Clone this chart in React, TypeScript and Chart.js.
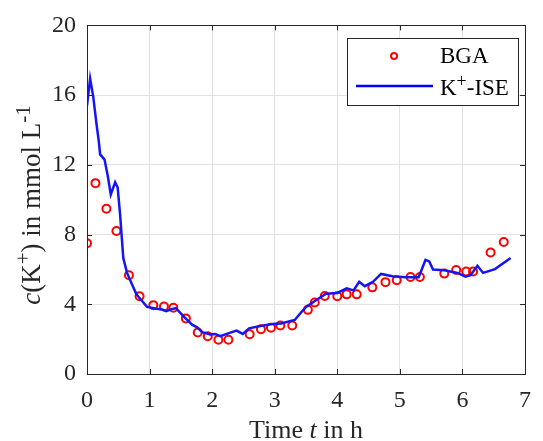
import React, { useEffect, useRef } from "react";
import { Chart, registerables } from "chart.js";

Chart.register(...registerables);

// BGA measurements
const bgaTime = [0, 0.135, 0.31, 0.47, 0.67, 0.84, 1.06, 1.23, 1.38, 1.58, 1.77, 1.93, 2.1, 2.26, 2.6, 2.78, 2.94, 3.09, 3.28, 3.53, 3.64, 3.8, 4.0, 4.15, 4.31, 4.56, 4.77, 4.95, 5.17, 5.32, 5.71, 5.9, 6.06, 6.17, 6.45, 6.66];
const bgaConc = [7.5, 10.95, 9.48, 8.2, 5.67, 4.46, 3.95, 3.87, 3.8, 3.19, 2.38, 2.17, 1.97, 1.97, 2.28, 2.57, 2.66, 2.78, 2.78, 3.68, 4.1, 4.48, 4.46, 4.57, 4.57, 4.97, 5.27, 5.38, 5.57, 5.57, 5.76, 5.97, 5.88, 5.88, 6.97, 7.57];

// K+-ISE signal
const iseTime = [0, 0.05, 0.1, 0.15, 0.19, 0.21, 0.28, 0.33, 0.38, 0.45, 0.49, 0.53, 0.58, 0.64, 0.72, 0.79, 0.88, 0.96, 1.09, 1.2, 1.27, 1.35, 1.42, 1.56, 1.68, 1.76, 1.84, 1.97, 2.05, 2.13, 2.28, 2.39, 2.49, 2.59, 2.75, 2.96, 3.1, 3.32, 3.4, 3.5, 3.66, 3.82, 4.0, 4.15, 4.26, 4.35, 4.44, 4.57, 4.7, 4.88, 5.09, 5.3, 5.35, 5.41, 5.47, 5.53, 5.71, 5.92, 6.05, 6.13, 6.24, 6.33, 6.52, 6.77];
const iseConc = [15.4, 16.95, 15.9, 14.4, 13.3, 12.6, 12.3, 11.4, 10.3, 11.0, 10.7, 9.1, 6.65, 5.8, 5.14, 4.57, 4.19, 3.85, 3.76, 3.7, 3.6, 3.72, 3.78, 3.25, 2.83, 2.68, 2.4, 2.27, 2.3, 2.17, 2.36, 2.49, 2.3, 2.62, 2.74, 2.87, 2.9, 3.1, 3.44, 3.85, 4.23, 4.61, 4.65, 4.91, 4.8, 5.29, 5.04, 5.29, 5.74, 5.61, 5.55, 5.55, 5.99, 6.55, 6.46, 5.99, 5.95, 5.8, 5.59, 5.67, 6.21, 5.8, 6.02, 6.65];

const xTicks = [0, 1, 2, 3, 4, 5, 6, 7];
const yTicks = [0, 4, 8, 12, 16, 20];

const SERIF = "'Liberation Serif', 'Times New Roman', serif";
const AXIS = "#262626";

type Seg = { t: string; it?: boolean; sup?: boolean };

function segFont(s: Seg, size: number) {
  const sz = s.sup ? size * 0.78 : size;
  return `${s.it ? "italic " : ""}${sz}px ${SERIF}`;
}

function drawRich(ctx: CanvasRenderingContext2D, segs: Seg[], x: number, y: number, size: number, align: "left" | "center") {
  let total = 0;
  for (const s of segs) {
    ctx.font = segFont(s, size);
    total += ctx.measureText(s.t).width;
  }
  let cx = align === "center" ? x - total / 2 : x;
  ctx.textAlign = "left";
  ctx.textBaseline = "alphabetic";
  for (const s of segs) {
    ctx.font = segFont(s, size);
    ctx.fillText(s.t, cx, s.sup ? y - size * 0.36 : y);
    cx += ctx.measureText(s.t).width;
  }
}

const decorPlugin = {
  id: "decor",
  afterDraw(chart: any) {
    const ctx: CanvasRenderingContext2D = chart.ctx;
    const { left, right, top, bottom } = chart.chartArea;
    const xs = chart.scales.x;
    const ys = chart.scales.y;
    ctx.save();
    // box
    ctx.strokeStyle = AXIS;
    ctx.lineWidth = 1;
    ctx.strokeRect(Math.round(left) + 0.5, Math.round(top) + 0.5, Math.round(right - left), Math.round(bottom - top));
    // inward ticks
    const tl = 5;
    ctx.beginPath();
    for (const v of xTicks) {
      const px = Math.round(xs.getPixelForValue(v)) + 0.5;
      ctx.moveTo(px, bottom);
      ctx.lineTo(px, bottom - tl);
      ctx.moveTo(px, top);
      ctx.lineTo(px, top + tl);
    }
    for (const v of yTicks) {
      const py = Math.round(ys.getPixelForValue(v)) + 0.5;
      ctx.moveTo(left, py);
      ctx.lineTo(left + tl, py);
      ctx.moveTo(right, py);
      ctx.lineTo(right - tl, py);
    }
    ctx.stroke();

    ctx.fillStyle = AXIS;
    // x title
    drawRich(ctx, [{ t: "Time " }, { t: "t", it: true }, { t: " in h" }], (left + right) / 2, 438, 26, "center");
    // y title
    ctx.save();
    ctx.translate(40, 205);
    ctx.rotate(-Math.PI / 2);
    drawRich(ctx, [{ t: "c", it: true }, { t: "(K" }, { t: "+", sup: true }, { t: ") in mmol L" }, { t: "-1", sup: true }], 0, 0, 27, "center");
    ctx.restore();

    // legend
    const lx = 347.5, ly = 38.5, lw = 171, lh = 67;
    ctx.fillStyle = "#ffffff";
    ctx.fillRect(lx, ly, lw, lh);
    ctx.strokeStyle = AXIS;
    ctx.lineWidth = 1;
    ctx.strokeRect(lx, ly, lw, lh);
    ctx.beginPath();
    ctx.arc(394, 56, 3, 0, Math.PI * 2);
    ctx.strokeStyle = "#ff0000";
    ctx.lineWidth = 2;
    ctx.stroke();
    ctx.beginPath();
    ctx.moveTo(356, 86);
    ctx.lineTo(433, 86);
    ctx.strokeStyle = "#0000ff";
    ctx.lineWidth = 2.5;
    ctx.stroke();
    ctx.fillStyle = "#000000";
    drawRich(ctx, [{ t: "BGA" }], 440, 63, 23, "left");
    drawRich(ctx, [{ t: "K" }, { t: "+", sup: true }, { t: "-ISE" }], 440, 95, 23, "left");
    ctx.restore();
  },
};

export default function App() {
  const ref = useRef<HTMLCanvasElement>(null);
  useEffect(() => {
    if (!ref.current) return;
    const chart = new Chart(ref.current, {
      type: "scatter",
      data: {
        datasets: [
          {
            label: "K+-ISE",
            data: iseTime.map((t, i) => ({ x: t, y: iseConc[i] })),
            showLine: true,
            borderColor: "#1414f5",
            borderWidth: 2.5,
            pointRadius: 0,
            tension: 0,
          },
          {
            label: "BGA",
            data: bgaTime.map((t, i) => ({ x: t, y: bgaConc[i] })),
            showLine: false,
            pointStyle: "circle",
            pointRadius: 4,
            pointBorderWidth: 2,
            borderColor: "#ff0000",
            backgroundColor: "rgba(0,0,0,0)",
            pointBackgroundColor: "rgba(0,0,0,0)",
          },
        ],
      },
      options: {
        animation: false,
        responsive: false,
        devicePixelRatio: 1,
        layout: { padding: { left: 0, top: 22, right: 8, bottom: 0 } },
        plugins: { legend: { display: false }, tooltip: { enabled: false } },
        scales: {
          x: {
            type: "linear",
            min: 0,
            max: 7,
            afterBuildTicks: (s: any) => {
              s.ticks = xTicks.map((v) => ({ value: v }));
            },
            afterFit: (s: any) => {
              s.height = 67;
            },
            ticks: { font: { family: SERIF, size: 24 }, color: AXIS, padding: 12, maxRotation: 0 },
            grid: { color: "#e2e2e2", lineWidth: 1, drawTicks: false },
            border: { display: false },
          },
          y: {
            type: "linear",
            min: 0,
            max: 20,
            afterBuildTicks: (s: any) => {
              s.ticks = yTicks.map((v) => ({ value: v }));
            },
            afterFit: (s: any) => {
              s.width = 87;
            },
            ticks: { font: { family: SERIF, size: 24 }, color: AXIS, padding: 11 },
            grid: { color: "#e2e2e2", lineWidth: 1, drawTicks: false },
            border: { display: false },
          },
        },
      },
      plugins: [decorPlugin],
    });
    return () => chart.destroy();
  }, []);
  return (
    <div style={{ position: "fixed", left: 0, top: 0, width: 543, height: 441, background: "#fff" }}>
      <canvas ref={ref} width={543} height={441} />
    </div>
  );
}
